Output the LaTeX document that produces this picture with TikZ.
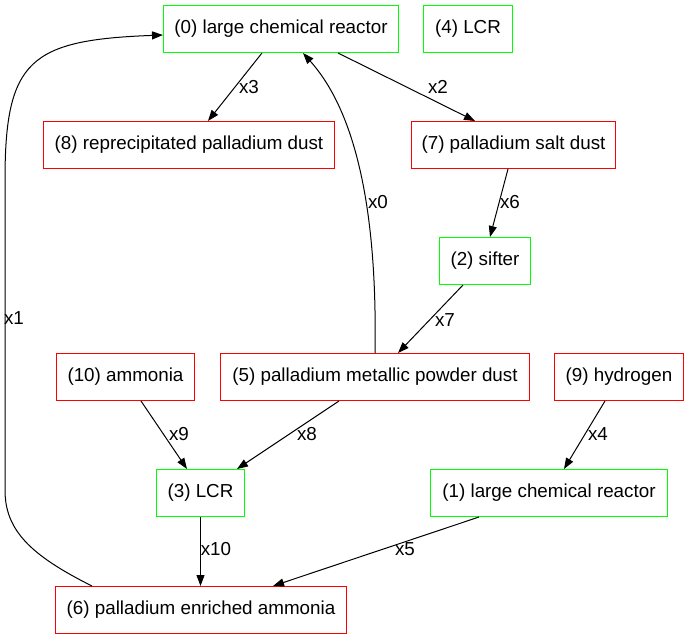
\documentclass[tikz,border=0pt]{standalone}
\usepackage{fontspec}
\setmainfont{Liberation Sans}
\usetikzlibrary{arrows.meta}

\begin{document}
\begin{tikzpicture}[x=1pt, y=-1pt, line width=1pt,
  >={Triangle[length=11pt,width=8pt]},
  every node/.style={font=\fontsize{18.8}{22}\selectfont},
  unit/.style={draw=green, rectangle, minimum height=47pt, inner sep=0pt},
  stuff/.style={draw=red, rectangle, minimum height=47pt, inner sep=0pt},
  lbl/.style={inner sep=0pt}]
\useasboundingbox (0,0) rectangle (686,639);

%% boxes
\node [unit, minimum width=235pt] (n0) at (281,29) {(0) large chemical reactor};
\node [unit, minimum width=89pt] (n4) at (468,29) {(4) LCR};
\node [stuff, minimum width=291pt] (n8) at (189,145) {(8) reprecipitated palladium dust};
\node [stuff, minimum width=204pt] (n7) at (513.5,145) {(7) palladium salt dust};
\node [unit, minimum width=91pt] (n2) at (485,261) {(2) sifter};
\node [stuff, minimum width=138pt] (n10) at (125.5,377) {(10) ammonia};
\node [stuff, minimum width=309pt] (n5) at (375,377) {(5) palladium metallic powder dust};
\node [stuff, minimum width=129pt] (n9) at (619,377) {(9) hydrogen};
\node [unit, minimum width=88pt] (n3) at (200.5,493) {(3) LCR};
\node [unit, minimum width=237pt] (n1) at (549,493) {(1) large chemical reactor};
\node [stuff, minimum width=291pt] (n6) at (201,610) {(6) palladium enriched ammonia};

%% flows
\draw [->] ([xshift=-19pt]n0.south) -- ([xshift=19pt]n8.north); % x3
\draw [->] ([xshift=57pt]n0.south) -- ([xshift=-38.5pt]n7.north); % x2
\draw [->] ([xshift=-5.5pt]n7.south) -- ([xshift=5pt]n2.north); % x6
\draw [->] ([xshift=-22pt]n2.south) -- ([xshift=23pt]n5.north); % x7
\draw [->] (n5.north) .. controls (378,180) and (345,100) .. ([xshift=22pt]n0.south); % x0
\draw [->] ([xshift=-109pt]n6.north) .. controls (30,555) and (5,530) .. (5,490)
  -- (5,180) .. controls (5,60) and (30,40) .. ([yshift=-6pt]n0.west); % x1 back to top
\draw [->] ([xshift=15.5pt]n10.south) -- ([xshift=-13.5pt]n3.north); % x9
\draw [->] ([xshift=-36pt]n5.south) -- ([xshift=36.5pt]n3.north); % x8
\draw [->] ([xshift=-14pt]n9.south) -- ([xshift=15pt]n1.north); % x4
\draw [->] (n3.south) -- (n3.south |- n6.north); % x10
\draw [->] ([xshift=-70pt]n1.south) -- ([xshift=72pt]n6.north); % x5

%% labeling
\node [lbl] (lx3) at (249,87) {x3};
\node [lbl] (lx2) at (438,87) {x2};
\node [lbl] (lx6) at (510,202) {x6};
\node [lbl] (lx0) at (378,202) {x0};
\node [lbl] (lx1) at (14,318) {x1};
\node [lbl] (lx7) at (445,320) {x7};
\node [lbl] (lx9) at (179,434) {x9};
\node [lbl] (lx8) at (307,434) {x8};
\node [lbl] (lx4) at (598,434) {x4};
\node [lbl] (lx10) at (216,549) {x10};
\node [lbl] (lx5) at (405,549) {x5};

\end{tikzpicture}
\end{document}
